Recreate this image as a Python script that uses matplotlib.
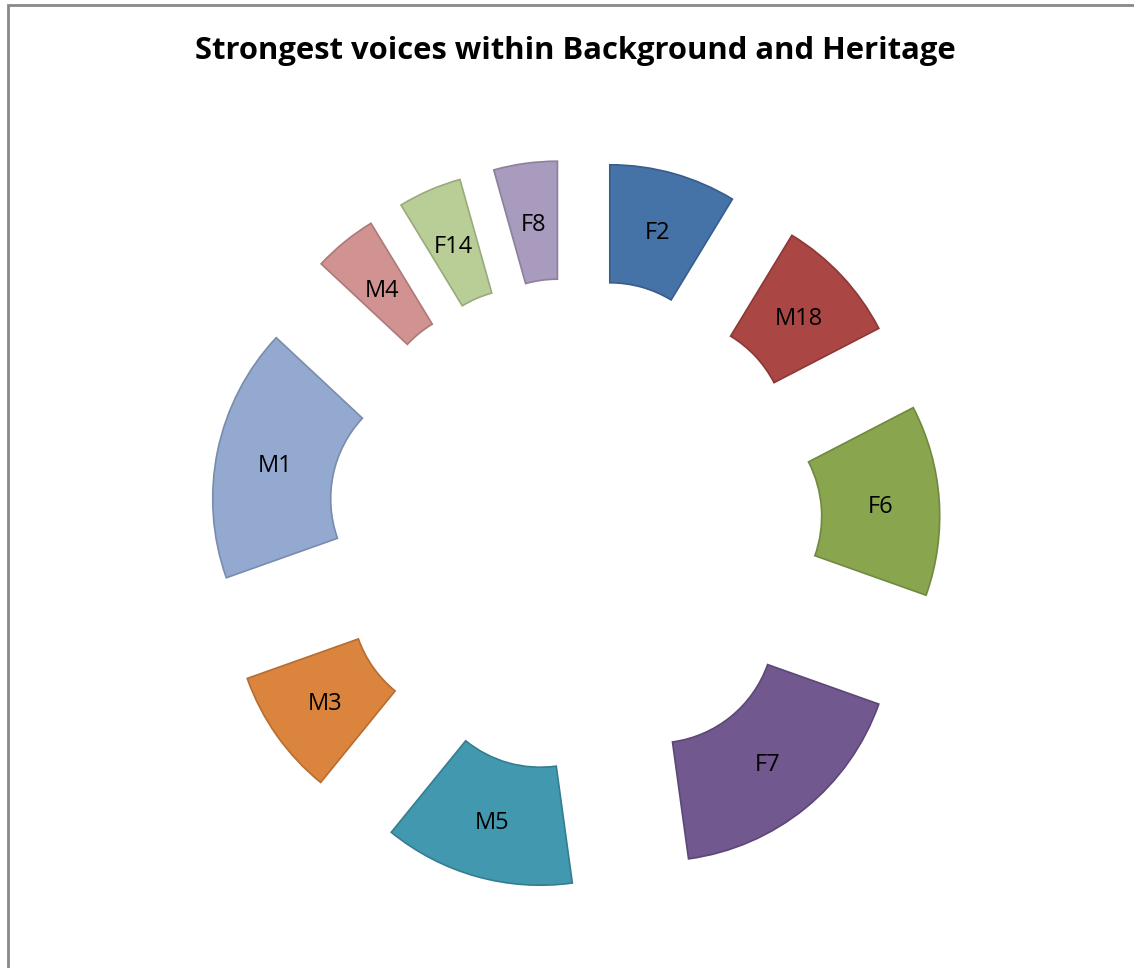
import matplotlib
matplotlib.use('Agg')
import matplotlib.pyplot as plt
from matplotlib.patches import Rectangle

# data (clockwise from 12 o'clock)
labels = ['F2', 'M18', 'F6', 'F7', 'M5', 'M3', 'M1', 'M4', 'F14', 'F8']
counts = [6, 6, 9, 12, 9, 6, 12, 3, 3, 3]

fill_colors = ['#4572A7', '#AA4643', '#89A54E', '#71588F', '#4198AF',
               '#DB843D', '#93A9CF', '#D19392', '#B9CD96', '#A99BBD']
edge_colors = ['#385D8A', '#8C3836', '#71893F', '#5C4776', '#357D91',
               '#B66D31', '#7A8CAD', '#AD7978', '#99AA7C', '#8C809C']

plt.rcParams['font.family'] = ['Open Sans', 'DejaVu Sans']

fig = plt.figure(figsize=(11.34, 9.68), dpi=100)
ax = fig.add_axes([0, 0, 1, 1])

# donut geometry in pixels
cx, cy = 575, 968 - 525
outer_r = 236
ring_w = 118
shift = 129

wedges, texts = ax.pie(counts, labels=labels, colors=fill_colors,
                       center=(cx, cy), radius=outer_r,
                       explode=[shift] * len(counts),
                       startangle=90, counterclock=False,
                       labeldistance=0.75,
                       wedgeprops=dict(width=ring_w, linewidth=1.2),
                       textprops=dict(fontsize=17, color='black'))
for w, ec in zip(wedges, edge_colors):
    w.set_edgecolor(ec)
for t in texts:
    t.set_horizontalalignment('center')
    t.set_verticalalignment('center_baseline')

ax.set_xlim(0, 1134)
ax.set_ylim(0, 968)
ax.set_aspect('equal')
ax.axis('off')

# chart area border
ax.add_patch(Rectangle((8, -20), 1200, 968 - 5 + 20, fill=False,
                       edgecolor='#898989', linewidth=2))

ax.text(575, 968 - 51, 'Strongest voices within Background and Heritage',
        ha='center', va='center', fontsize=22.3, fontweight='bold')

fig.savefig('out.png', dpi=100)
